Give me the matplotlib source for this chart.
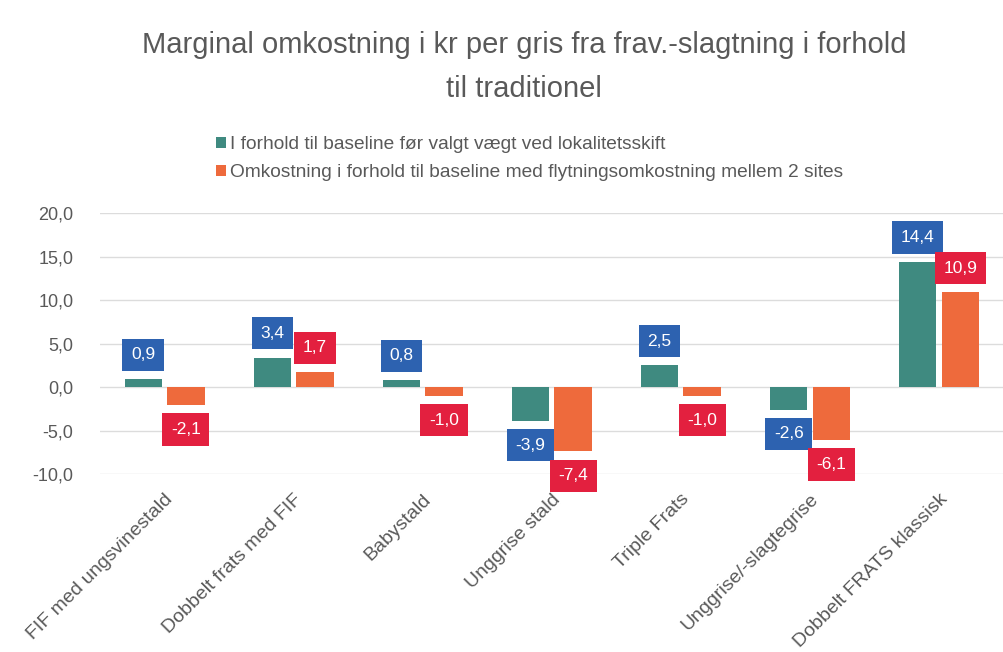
import numpy as np
import matplotlib.pyplot as plt

# data
categories = ['FIF med ungsvinestald', 'Dobbelt frats med FIF', 'Babystald',
              'Unggrise stald', 'Triple Frats', 'Unggrise/-slagtegrise',
              'Dobbelt FRATS klassisk']
baseline_vals = [0.9, 3.4, 0.8, -3.9, 2.5, -2.6, 14.4]
flytning_vals = [-2.1, 1.7, -1.0, -7.4, -1.0, -6.1, 10.9]
series_names = ['I forhold til baseline før valgt vægt ved lokalitetsskift',
                'Omkostning i forhold til baseline med flytningsomkostning mellem 2 sites']

teal = '#3f8a80'
orange = '#ee6a3c'
box_blue = '#2d62b0'
box_red = '#e3203f'
grey = '#595959'

plt.rcParams['font.family'] = ['Liberation Sans', 'DejaVu Sans']

fig = plt.figure(figsize=(10.04, 6.52), dpi=100)
ax = fig.add_axes([0.0996, 0.273, 0.9, 0.4])

x = np.arange(len(categories))
w = 0.29
off = 0.165
b1 = ax.bar(x - off, baseline_vals, w, color=teal, label=series_names[0], zorder=2)
b2 = ax.bar(x + off, flytning_vals, w, color=orange, label=series_names[1], zorder=2)


def fmt(v):
    return f'{v:.1f}'.replace('.', ',')


def add_labels(xs, vals, boxcol):
    for xi, v in zip(xs, vals):
        dy = 17.5 if v >= 0 else -17.5
        ax.annotate(fmt(v), (xi, v), xytext=(0, dy), textcoords='offset points',
                    ha='center', va='center', fontsize=12.5, color='white',
                    bbox=dict(boxstyle='square,pad=0.5', fc=boxcol, ec='none'),
                    annotation_clip=False, zorder=3)


add_labels(x - off, baseline_vals, box_blue)
add_labels(x + off, flytning_vals, box_red)

ax.set_ylim(-10, 20)
ax.set_xlim(-0.5, len(categories) - 0.5)
ax.set_yticks(np.arange(-10, 21, 5))
ax.set_yticklabels([fmt(t) for t in np.arange(-10, 21, 5)], fontsize=13, color=grey)
ax.yaxis.grid(True, color='#dcdcdc', linewidth=1, zorder=0)
ax.set_axisbelow(True)
ax.tick_params(axis='both', length=0)
ax.tick_params(axis='y', pad=19)
for s in ax.spines.values():
    s.set_visible(False)

ax.set_xticks(x)
ax.set_xticklabels(categories, rotation=45, ha='right', rotation_mode='anchor',
                   fontsize=14, color=grey)
ax.tick_params(axis='x', pad=12)

fig.text(0.522, 0.897, 'Marginal omkostning i kr per gris fra frav.-slagtning i forhold\ntil traditionel',
         ha='center', va='center', fontsize=21, color=grey, linespacing=1.7)

fig.legend(handles=[b1, b2], loc='upper left', bbox_to_anchor=(0.198, 0.818),
           frameon=False, fontsize=13.8, handlelength=0.5, handleheight=0.5,
           handletextpad=0.25, labelspacing=0.6, labelcolor=grey)

fig.savefig('out.png', dpi=100, facecolor='white')
